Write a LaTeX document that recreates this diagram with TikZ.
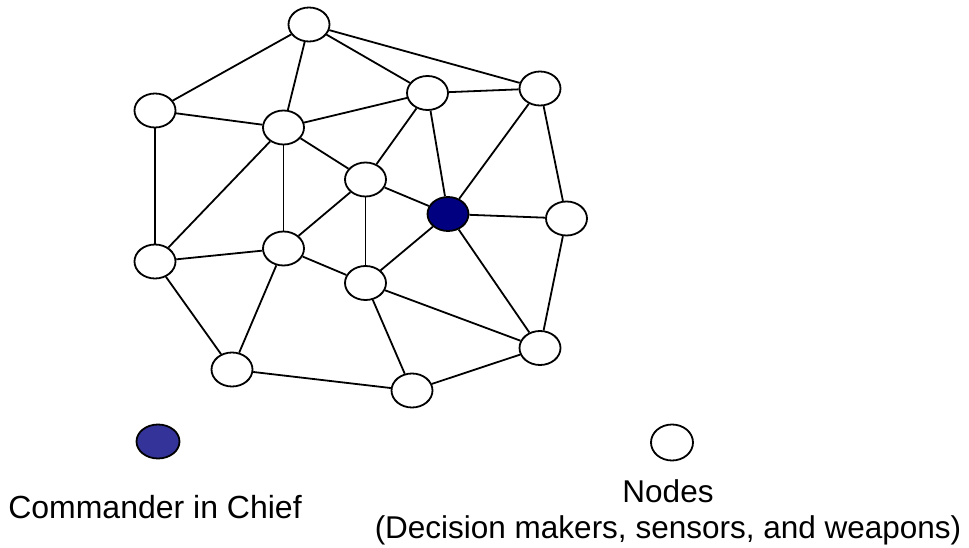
\documentclass[tikz,border=0pt]{standalone}
\usepackage{fontspec}
\setmainfont{Liberation Sans}
\usetikzlibrary{shapes.geometric}
\definecolor{chiefblue}{RGB}{0,0,128}
\definecolor{legendblue}{RGB}{51,51,153}
\tikzset{
  netnode/.style={ellipse, draw=black, line width=1.8pt, fill=white,
    minimum width=41pt, minimum height=34pt, inner sep=0pt},
  chief/.style={netnode, fill=chiefblue},
  link/.style={line width=1.8pt, black},
  caption/.style={anchor=base, inner sep=0pt, font=\fontsize{31.5}{36}\selectfont}
}
\begin{document}
\begin{tikzpicture}[x=1pt, y=-1pt]
\useasboundingbox (0,0) rectangle (969,548);

% network nodes
\node[netnode] (n1)  at (309,24.5) {};
\node[netnode] (n2)  at (540,88.5) {};
\node[netnode] (n3)  at (427.5,93) {};
\node[netnode] (n4)  at (155,110.5) {};
\node[netnode] (n5)  at (283.5,127.5) {};
\node[netnode] (n6)  at (365.5,179.5) {};
\node[chief]   (n7)  at (448,214) {};
\node[netnode] (n8)  at (566.5,218.5) {};
\node[netnode] (n9)  at (155,261.5) {};
\node[netnode] (n10) at (283.5,248.5) {};
\node[netnode] (n11) at (365.5,283) {};
\node[netnode] (n12) at (232,369.5) {};
\node[netnode] (n13) at (540,348) {};
\node[netnode] (n14) at (412,390.5) {};

% links
\foreach \a/\b in {n1/n4, n1/n5, n1/n3, n1/n2,
                   n4/n5, n4/n9,
                   n5/n3, n5/n6, n5/n9, n5/n10,
                   n3/n2, n3/n6, n3/n7,
                   n2/n7, n2/n8,
                   n6/n7, n6/n10, n6/n11,
                   n7/n8, n7/n11, n7/n13,
                   n8/n13,
                   n9/n10, n9/n12,
                   n10/n11, n10/n12,
                   n11/n13, n11/n14,
                   n12/n14, n14/n13}
  \draw[link] (\a) -- (\b);

% legend
\node[netnode, fill=legendblue, minimum width=43pt, minimum height=34pt] (keychief) at (158,441.5) {};
\node[netnode, minimum width=42pt, minimum height=36pt] (keynode) at (672,442.5) {};
\node[caption, font=\fontsize{32}{38}\selectfont] (chieflabel) at (155,518) {Commander in Chief};
\node[caption] (nodeslabel) at (668,502) {Nodes};
\node[caption] (nodesdesc) at (668,538) {(Decision makers, sensors, and weapons)};
\end{tikzpicture}
\end{document}
